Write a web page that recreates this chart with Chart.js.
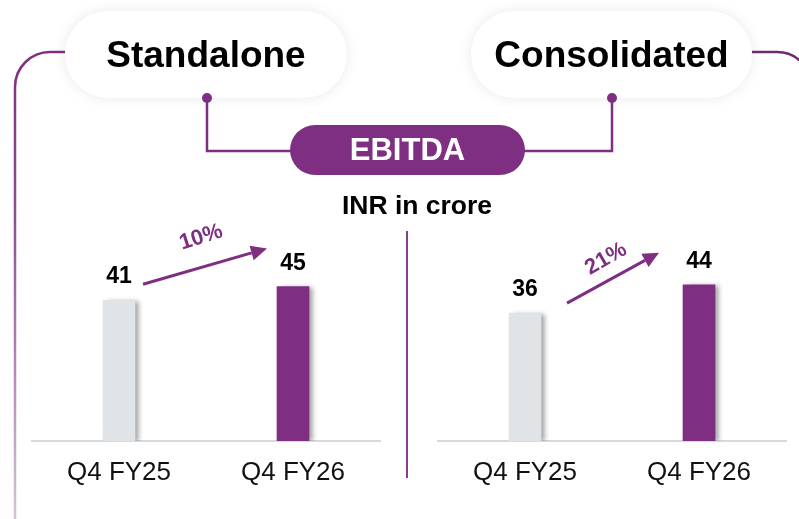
<!DOCTYPE html>
<html><head><meta charset="utf-8">
<script src="https://cdn.jsdelivr.net/npm/chart.js@4/dist/chart.umd.min.js"></script>
<style>
html,body{margin:0;padding:0;background:#fff;}
body{width:799px;height:519px;position:relative;overflow:hidden;font-family:"Liberation Sans",Arial,Helvetica,sans-serif;}
#deco{position:absolute;left:0;top:0;z-index:0;}
#dots{position:absolute;left:0;top:0;z-index:3;pointer-events:none;}
canvas{position:absolute;top:0;z-index:1;}
.pill{position:absolute;z-index:2;background:#fff;border-radius:44px;box-shadow:0 0 14px rgba(0,0,0,0.09);display:flex;align-items:center;justify-content:center;font-weight:bold;font-size:37px;color:#000;}
#metric{position:absolute;z-index:2;left:290px;top:125px;width:235px;height:50px;border-radius:25px;background:#7E2F82;color:#fff;font-weight:bold;font-size:31px;display:flex;align-items:center;justify-content:center;}
#unit{position:absolute;z-index:2;left:317px;width:200px;top:190px;text-align:center;font-weight:bold;font-size:26.5px;color:#000;line-height:30px;}
</style>
</head><body>
<svg id="deco" width="799" height="519" xmlns="http://www.w3.org/2000/svg">
  <defs>
    <linearGradient id="fadeL" x1="0" y1="52" x2="0" y2="519" gradientUnits="userSpaceOnUse">
      <stop offset="0" stop-color="#7E2F82"/>
      <stop offset="0.35" stop-color="#8E4C93"/>
      <stop offset="1" stop-color="#D6C2DA"/>
    </linearGradient>
  </defs>
  <path d="M65,52 H50 A35,35 0 0 0 15,87 V519" fill="none" stroke="url(#fadeL)" stroke-width="2.5"/>
  <path d="M752,52 H777 A35,35 0 0 1 812,87 V519" fill="none" stroke="#6E2A73" stroke-width="2.5"/>
  <path d="M207,98 V151 H292" fill="none" stroke="#7E2F82" stroke-width="2.5"/>
  <path d="M612,98 V151 H523" fill="none" stroke="#7E2F82" stroke-width="2.5"/>
  <line x1="407" y1="231" x2="407" y2="478" stroke="#8A3C8F" stroke-width="2"/>
</svg>
<svg id="dots" width="799" height="519" xmlns="http://www.w3.org/2000/svg">
  <circle cx="207" cy="98" r="5" fill="#7E2F82"/>
  <circle cx="612" cy="98" r="5" fill="#7E2F82"/>
</svg>
<div class="pill" id="p1" style="left:65px;top:11px;width:282px;height:87px;"></div>
<div class="pill" id="p2" style="left:471px;top:11px;width:281px;height:87px;"></div>
<div id="metric"></div>
<div id="unit"></div>
<canvas id="c1" width="400" height="519" style="left:0px;width:400px;height:519px;"></canvas>
<canvas id="c2" width="399" height="519" style="left:400px;width:399px;height:519px;"></canvas>
<script>
// ---- data ----
const categories = ['Q4 FY25', 'Q4 FY26'];
const standaloneValues = [41, 45];
const consolidatedValues = [36, 44];
const standaloneGrowth = '10%';
const consolidatedGrowth = '21%';
const panelTitles = ['Standalone', 'Consolidated'];
const metricTitle = 'EBITDA';
const unitLabel = 'INR in crore';

document.getElementById('p1').textContent = panelTitles[0];
document.getElementById('p2').textContent = panelTitles[1];
document.getElementById('metric').textContent = metricTitle;
document.getElementById('unit').textContent = unitLabel;

const PURPLE = '#7E2F82';
const GREY = '#E1E4E7';
const FONT = '"Liberation Sans", Arial, Helvetica, sans-serif';

const decoPlugin = {
  id: 'deco',
  beforeDatasetsDraw(chart) {
    const ctx = chart.ctx;
    ctx.save();
    ctx.shadowColor = 'rgba(0,0,0,0.38)';
    ctx.shadowBlur = 5;
    ctx.shadowOffsetX = 4;
    ctx.shadowOffsetY = 1;
  },
  afterDatasetsDraw(chart, args, opts) {
    const ctx = chart.ctx;
    ctx.restore();
    const meta = chart.getDatasetMeta(0);
    const data = chart.data.datasets[0].data;
    ctx.save();
    ctx.fillStyle = '#000';
    ctx.font = 'bold 23px ' + FONT;
    ctx.textAlign = 'center';
    ctx.textBaseline = 'alphabetic';
    meta.data.forEach((bar, i) => {
      ctx.fillText(String(data[i]), bar.x, bar.y - 17);
    });
    // growth arrow
    const a = opts.arrow;
    const b0 = meta.data[0], b1 = meta.data[1];
    const sx = b0.x + a.sdx, sy = b0.y + a.sdy;
    const ex = b1.x + a.edx, ey = b1.y + a.edy;
    const ang = Math.atan2(ey - sy, ex - sx);
    const hl = 16, hw = 7.5;
    const bx = ex - hl * Math.cos(ang), by = ey - hl * Math.sin(ang);
    ctx.strokeStyle = PURPLE;
    ctx.fillStyle = PURPLE;
    ctx.lineWidth = 3;
    ctx.beginPath();
    ctx.moveTo(sx, sy);
    ctx.lineTo(bx, by);
    ctx.stroke();
    ctx.beginPath();
    ctx.moveTo(ex, ey);
    ctx.lineTo(bx + hw * Math.sin(ang), by - hw * Math.cos(ang));
    ctx.lineTo(bx - hw * Math.sin(ang), by + hw * Math.cos(ang));
    ctx.closePath();
    ctx.fill();
    const mx = (sx + ex) / 2 + a.ldx, my = (sy + ey) / 2 + a.ldy;
    ctx.translate(mx, my);
    ctx.rotate(ang + a.lrot);
    ctx.font = 'bold 22px ' + FONT;
    ctx.textAlign = 'center';
    ctx.textBaseline = 'middle';
    ctx.fillText(opts.label, 0, 0);
    ctx.restore();
  }
};

function makeChart(id, values, growth, yMax, padL, padR, arrow) {
  return new Chart(document.getElementById(id), {
    type: 'bar',
    data: {
      labels: categories,
      datasets: [{
        data: values,
        backgroundColor: [GREY, PURPLE],
        borderWidth: 0,
        barThickness: 32
      }]
    },
    options: {
      responsive: false,
      animation: false,
      events: [],
      layout: { padding: { left: padL, right: padR, top: 235, bottom: 0 } },
      plugins: {
        legend: { display: false },
        tooltip: { enabled: false },
        deco: { arrow: arrow, label: growth }
      },
      scales: {
        x: {
          grid: { display: false, drawTicks: false },
          border: { display: true, color: '#D9D9D9', width: 2 },
          ticks: { color: '#111', font: { size: 26, family: FONT }, padding: 16 },
          afterFit(scale) { scale.height = 78; }
        },
        y: { display: false, min: 0, max: yMax }
      }
    },
    plugins: [decoPlugin]
  });
}

makeChart('c1', standaloneValues, standaloneGrowth, 60, 32, 20,
  { sdx: 24, sdy: -16, edx: -26, edy: -38, ldx: -4, ldy: -29, lrot: -0.03 });
makeChart('c2', consolidatedValues, consolidatedGrowth, 58, 38, 13,
  { sdx: 42, sdy: -10, edx: -40, edy: -32, ldx: -7, ldy: -19, lrot: -0.03 });
</script>
</body></html>
